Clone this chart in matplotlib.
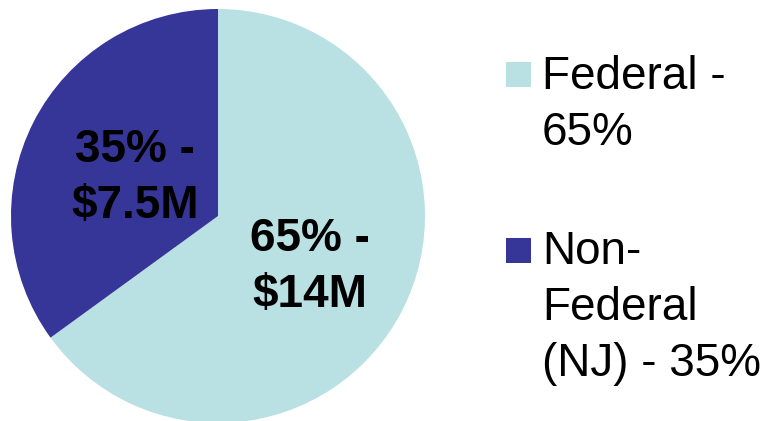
'''
funding split pie chart: federal vs non-federal (NJ)
'''

import numpy as np
import matplotlib
matplotlib.use('Agg')
import matplotlib.pyplot as plt
from matplotlib.patches import Rectangle

# data
sources = ['Federal', 'Non-Federal (NJ)']
shares = [65, 35]
amounts = ['$14M', '$7.5M']
legend_labels = ['Federal -\n65%', 'Non-\nFederal\n(NJ) - 35%']
colors = ['#B9E0E3', '#363598']

W, H = 773, 421
fig = plt.figure(figsize=(W/100, H/100), dpi=100)

#pie axes: centre (218,216) px from top-left, radius 207 px
cx, cy, r = 218, 216, 207
ax = fig.add_axes([(cx-r)/W, (H-cy-r)/H, 2*r/W, 2*r/H])
wedges, _ = ax.pie(shares, colors=colors, startangle=90, counterclock=False,
                   radius=1, wedgeprops={'linewidth': 0})
ax.set_xlim(-1, 1)
ax.set_ylim(-1, 1)
ax.set_aspect('equal')
ax.axis('off')

#slice labels along the bisector of each wedge, one line at a time
label_r = [0.50, 0.45]
for w, s, a, lr in zip(wedges, shares, amounts, label_r):
    ang = np.deg2rad((w.theta1 + w.theta2) / 2)
    xy = (lr*np.cos(ang), lr*np.sin(ang))
    for line, off in zip(['%d%% -' % s, a], [11.5, -44.5]):
        ax.annotate(line, xy, xytext=(0, off), textcoords='offset pixels',
                    ha='center', va='baseline', fontsize=33,
                    fontweight='bold', family='Liberation Sans', color='black')

#legend drawn by hand so the wrapping matches
sq_top = [62, 238]
text_base = [89, 264]
step = 56
for lab, c, st, tb in zip(legend_labels, colors, sq_top, text_base):
    fig.patches.append(Rectangle((506/W, (H-st-25)/H), 25/W, 25/H,
                                 transform=fig.transFigure, facecolor=c,
                                 edgecolor='none'))
    for i, line in enumerate(lab.split('\n')):
        fig.text(542/W, (H-tb-i*step)/H, line, ha='left', va='baseline',
                 fontsize=33, family='Liberation Sans')

fig.savefig('out.png', dpi=100)
